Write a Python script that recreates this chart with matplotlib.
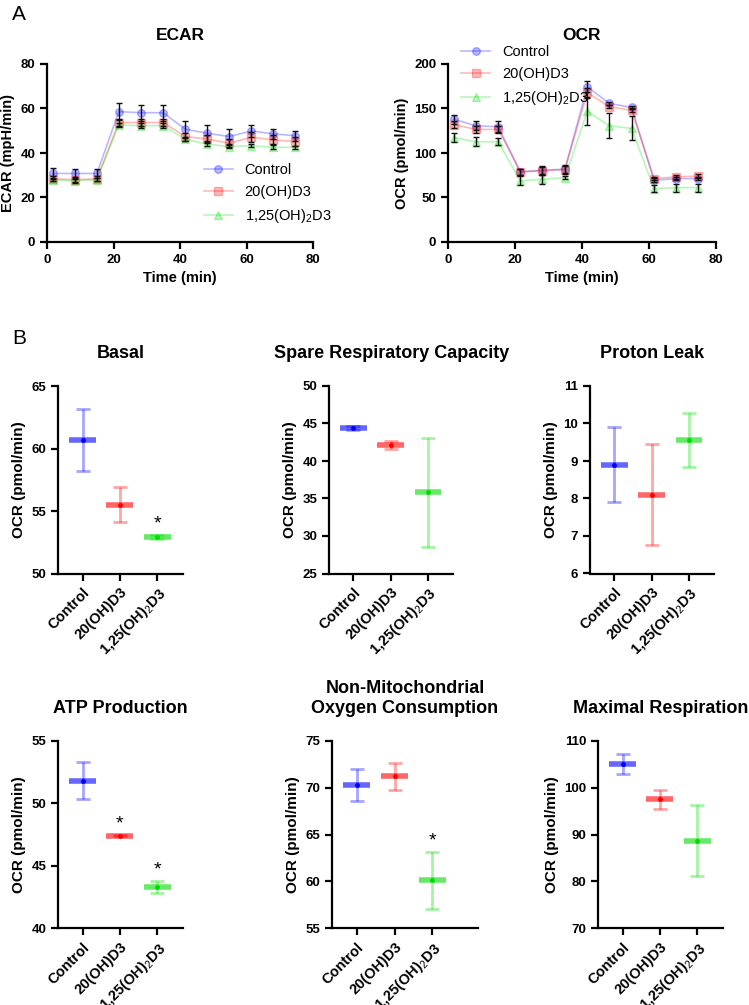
import matplotlib.pyplot as plt

plt.rcParams['font.family'] = ['Liberation Sans', 'DejaVu Sans']
plt.rcParams['mathtext.fontset'] = 'custom'
plt.rcParams['mathtext.rm'] = 'Liberation Sans'
plt.rcParams['mathtext.bf'] = 'Liberation Sans:bold'

# grupos y estilo
grupos = ['Control', '20(OH)D3', '1,25(OH)$_2$D3']
colores = ['#0000ff', '#ff0000', '#00dd00']
marcadores = ['o', 's', '^']

# Panel A - curso temporal
tiempo = [1.7, 8.3, 15.0, 21.6, 28.2, 34.9, 41.6, 48.1, 54.8, 61.5, 68.1, 74.6]

ecar_control = [30.8, 30.8, 30.8, 58.6, 58.1, 58.1, 50.7, 48.9, 47.4, 49.9, 48.6, 47.8]
ecar_control_err = [2.4, 2.1, 2.1, 3.8, 3.6, 3.6, 3.8, 3.5, 3.3, 2.8, 2.4, 2.2]
ecar_20 = [28.4, 28.0, 28.4, 53.7, 53.7, 53.7, 47.4, 46.3, 44.4, 47.1, 45.9, 45.1]
ecar_20_err = [1.2, 1.1, 1.2, 1.5, 1.5, 1.5, 1.8, 2.0, 1.8, 2.2, 2.0, 2.0]
ecar_125 = [28.0, 27.5, 28.0, 52.6, 52.3, 52.3, 46.2, 44.0, 42.9, 43.3, 42.6, 42.5]
ecar_125_err = [0.8, 0.8, 0.8, 1.0, 1.0, 1.0, 1.0, 1.0, 0.8, 0.8, 0.8, 0.8]

ocr_control = [138.0, 130.6, 129.5, 78.8, 80.7, 81.8, 174.5, 155.7, 151.2, 69.4, 71.3, 71.3]
ocr_control_err = [5, 5, 6, 3, 5, 5, 6, 2, 2, 2, 2, 2]
ocr_20 = [132.0, 126.5, 126.5, 78.8, 80.0, 81.4, 168.0, 152.0, 148.0, 71.3, 73.2, 74.0]
ocr_20_err = [4, 4, 4, 3, 4, 4, 5, 2, 2, 2, 2, 2]
ocr_125 = [117.4, 112.6, 112.6, 68.7, 70.5, 72.4, 147.0, 130.6, 127.6, 60.0, 61.2, 61.2]
ocr_125_err = [5, 5, 4, 5, 5, 2, 15, 14, 13.5, 4, 4.5, 4.5]

# Panel B - parametros (media, error)
basal = [60.7, 55.5, 52.9]
basal_err = [2.5, 1.4, 0.15]
spare = [44.4, 42.1, 35.8]
spare_err = [0.3, 0.5, 7.3]
proton = [8.9, 8.1, 9.55]
proton_err = [1.0, 1.35, 0.72]
atp = [51.8, 47.4, 43.3]
atp_err = [1.5, 0.05, 0.5]
nomito = [70.3, 71.2, 60.1]
nomito_err = [1.7, 1.45, 3.0]
maxima = [105.0, 97.5, 88.7]
maxima_err = [2.2, 2.0, 7.5]

W, H = 749, 1005
fig = plt.figure(figsize=(W / 100, H / 100), dpi=100)


def caja(x0, x1, y0, y1):
    # pixeles -> fraccion de figura
    return [x0 / W, 1 - y1 / H, (x1 - x0) / W, (y1 - y0) / H]


def estilo(ax, xsize=9.5):
    for s in ['top', 'right']:
        ax.spines[s].set_visible(False)
    for s in ['left', 'bottom']:
        ax.spines[s].set_linewidth(1.6)
    ax.tick_params(width=1.6, length=5, labelsize=9.5)
    ax.tick_params(axis='x', labelsize=xsize)
    for lab in ax.get_xticklabels() + ax.get_yticklabels():
        lab.set_fontweight('bold')


def curso(ax, series, titulo, ylabel, ylim, yticks):
    for (y, e), c, m, g in zip(series, colores, marcadores, grupos):
        ax.errorbar(tiempo, y, yerr=e, fmt='none', ecolor='#111111',
                    elinewidth=1, capsize=2.5, capthick=1, zorder=3)
        ax.plot(tiempo, y, marker=m, color=c, alpha=0.28, ms=5.5, lw=1.2,
                label=g, zorder=2)
    ax.set_xlim(0, 80)
    ax.set_ylim(*ylim)
    ax.set_xticks([0, 20, 40, 60, 80])
    ax.set_yticks(yticks)
    ax.set_title(titulo, fontsize=12.5, fontweight='bold', pad=17)
    ax.set_xlabel('Time (min)', fontsize=10.5, fontweight='bold')
    ax.set_ylabel(ylabel, fontsize=10.5, fontweight='bold')
    estilo(ax)


ax1 = fig.add_axes(caja(47, 313, 64, 242))
curso(ax1, [(ecar_control, ecar_control_err), (ecar_20, ecar_20_err),
            (ecar_125, ecar_125_err)],
      'ECAR', 'ECAR (mpH/min)', (0, 80), [0, 20, 40, 60, 80])
ax1.legend(frameon=False, fontsize=10.5, loc='center left',
           bbox_to_anchor=(0.54, 0.27), handlelength=2.0, labelspacing=0.55)

ax2 = fig.add_axes(caja(448, 716, 64, 242))
curso(ax2, [(ocr_control, ocr_control_err), (ocr_20, ocr_20_err),
            (ocr_125, ocr_125_err)],
      'OCR', 'OCR (pmol/min)', (0, 200), [0, 50, 100, 150, 200])
ax2.legend(frameon=False, fontsize=10.5, loc='center left',
           bbox_to_anchor=(0.0, 0.93), handlelength=2.0, labelspacing=0.55)


def parametro(ax, medias, errores, titulo, ylim, yticks, estrellas, xmax=2.68):
    xs = [0, 1, 2]
    for x, m, e, c in zip(xs, medias, errores, colores):
        ax.errorbar(x, m, yerr=e, fmt='none', ecolor=c, alpha=0.35,
                    elinewidth=2, capsize=5, capthick=2, zorder=2)
        ax.hlines(m, x - 0.36, x + 0.36, color=c, alpha=0.6, lw=4, zorder=3)
        ax.plot(x, m, 'o', color=c, ms=2.5, zorder=4)
    for i in estrellas:
        ax.annotate('*', (xs[i], medias[i] + errores[i]), xytext=(0, 2),
                    textcoords='offset points', ha='center', va='bottom',
                    fontsize=14)
    ax.set_xlim(-0.65, xmax)
    ax.set_ylim(*ylim)
    ax.set_yticks(yticks)
    ax.set_xticks(xs)
    ax.set_xticklabels(grupos, rotation=45, ha='right', rotation_mode='anchor')
    ax.set_title(titulo, fontsize=13, fontweight='bold', pad=20)
    ax.set_ylabel('OCR (pmol/min)', fontsize=11, fontweight='bold')
    estilo(ax, xsize=10.5)


fila1 = (386, 573.5)
fila2 = (740.7, 928.3)
ancho = 124.4

axb1 = fig.add_axes(caja(58.3, 58.3 + ancho, *fila1))
parametro(axb1, basal, basal_err, 'Basal', (50, 65), [50, 55, 60, 65], [2])
axb2 = fig.add_axes(caja(329, 329 + ancho, *fila1))
parametro(axb2, spare, spare_err, 'Spare Respiratory Capacity', (25, 50),
          [25, 30, 35, 40, 45, 50], [])
axb3 = fig.add_axes(caja(590, 590 + ancho, *fila1))
parametro(axb3, proton, proton_err, 'Proton Leak', (6, 11),
          [6, 7, 8, 9, 10, 11], [])

axb4 = fig.add_axes(caja(58.3, 58.3 + ancho, *fila2))
parametro(axb4, atp, atp_err, 'ATP Production', (40, 55), [40, 45, 50, 55], [1, 2])
axb5 = fig.add_axes(caja(332.3, 477.7, *fila2))
parametro(axb5, nomito, nomito_err, 'Non-Mitochondrial\nOxygen Consumption',
          (55, 75), [55, 60, 65, 70, 75], [2], xmax=3.2)
axb6 = fig.add_axes(caja(598.3, 598.3 + ancho, *fila2))
parametro(axb6, maxima, maxima_err, 'Maximal Respiration', (70, 110),
          [70, 80, 90, 100, 110], [])

fig.text(12 / W, 1 - 14 / H, 'A', fontsize=15, va='center')
fig.text(12 / W, 1 - 338 / H, 'B', fontsize=15, va='center')

fig.savefig('out.png', dpi=100)
